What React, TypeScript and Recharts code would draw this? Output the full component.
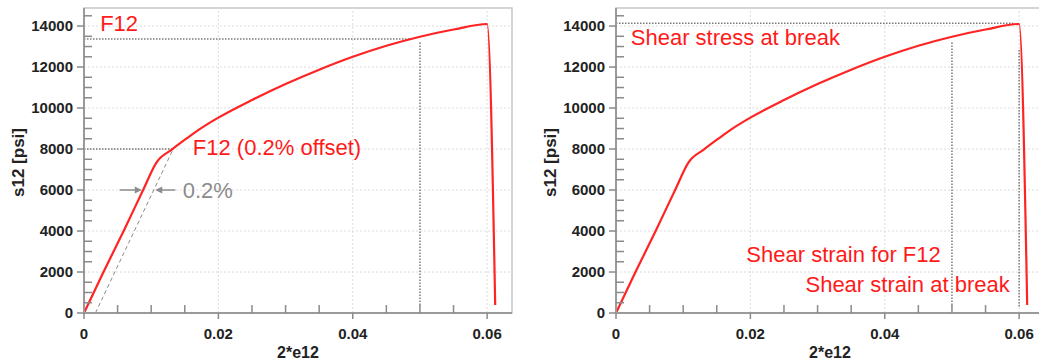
import React from "react";
import {
  ComposedChart, Line, XAxis, YAxis, ReferenceLine, ReferenceArea, ReferenceDot,
} from "recharts";

// stress-strain curve (same test shown twice)
const STRAIN = [0, 0.0029, 0.0059, 0.0088, 0.0108, 0.0131, 0.0153, 0.0175, 0.02, 0.025, 0.03, 0.035, 0.04, 0.045, 0.05, 0.055, 0.06, 0.0612];
const STRESS = [0, 2000, 4000, 6000, 7350, 7980, 8520, 9030, 9530, 10390, 11170, 11870, 12500, 13040, 13480, 13830, 14100, 390];

const X_TICKS = [0, 0.005, 0.01, 0.015, 0.02, 0.025, 0.03, 0.035, 0.04, 0.045, 0.05, 0.055, 0.06];
const Y_TICKS = [
  0, 500, 1000, 1500, 2000, 2500, 3000, 3500, 4000, 4500, 5000, 5500, 6000, 6500, 7000,
  7500, 8000, 8500, 9000, 9500, 10000, 10500, 11000, 11500, 12000, 12500, 13000, 13500, 14000, 14500,
];
const GRID_X = [0.02, 0.04, 0.06];
const GRID_Y = [2000, 4000, 6000, 8000, 10000, 12000, 14000];

const X_LABELS = ["0", "0.02", "0.04", "0.06"];

const X_MAX = 0.0637;
const Y_MAX = 14880;

// dotted guide segments [x1, y1, x2, y2]
const LEFT_GUIDES = [
  [0, 13370, 0.0488, 13370],
  [0.05, 13200, 0.05, 300],
  [0, 8000, 0.0131, 8000],
];
const RIGHT_GUIDES = [
  [0, 14130, 0.0591, 14130],
  [0.05, 13200, 0.05, 300],
  [0.06, 12830, 0.06, 300],
];
const OFFSET_LINE = [0.0017, 0, 0.0132, 7950];
const ARROWS = [
  [0.0053, 6000, 0.0086, 6000],
  [0.0136, 6000, 0.0106, 6000],
];

const LEFT_NOTES = [
  { text: "F12", x: 0.0024, y: 14100, color: "#ff1a1a" },
  { text: "F12 (0.2% offset)", x: 0.0162, y: 8050, color: "#ff1a1a" },
  { text: "0.2%", x: 0.0147, y: 6000, color: "#8c8c8c" },
];
const RIGHT_NOTES = [
  { text: "Shear stress at break", x: 0.0022, y: 13420, color: "#ff1a1a" },
  { text: "Shear strain for F12", x: 0.0194, y: 2830, color: "#ff1a1a" },
  { text: "Shear strain at break", x: 0.0282, y: 1370, color: "#ff1a1a" },
];

const data = STRAIN.map((x, i) => ({ x, s: STRESS[i] }));

const FONT = "'Liberation Sans', Arial, sans-serif";

const XTick = ({ x, y, payload }: any) => {
  const v = payload.value;
  const major = Math.abs(v / 0.02 - Math.round(v / 0.02)) < 1e-6;
  if (!major) {
    return <line x1={x} x2={x} y1={y} y2={y - 8} stroke="#8a8a8a" strokeWidth={1.5} />;
  }
  const lbl = X_LABELS[Math.round(v / 0.02)];
  return (
    <g>
      <line x1={x} x2={x} y1={y} y2={y + 6} stroke="#8a8a8a" strokeWidth={1.5} />
      <text x={x} y={y + 26} textAnchor="middle" fontSize={15} fontWeight="bold" fill="#222" fontFamily={FONT}>
        {lbl}
      </text>
    </g>
  );
};

const YTick = ({ x, y, payload }: any) => {
  const v = payload.value;
  if (v % 2000 !== 0) {
    return <line x1={x} x2={x + 8} y1={y} y2={y} stroke="#8a8a8a" strokeWidth={1.5} />;
  }
  return (
    <g>
      <line x1={x - 7} x2={x} y1={y} y2={y} stroke="#8a8a8a" strokeWidth={1.5} />
      <text x={x - 11} y={y + 5} textAnchor="end" fontSize={15} fontWeight="bold" fill="#222" fontFamily={FONT}>
        {v}
      </text>
    </g>
  );
};

const YLabel = ({ viewBox }: any) => {
  const cx = viewBox.x + 18;
  const cy = viewBox.y + viewBox.height / 2 + 2;
  return (
    <text x={cx} y={cy} transform={`rotate(-90, ${cx}, ${cy})`} textAnchor="middle" dominantBaseline="central"
      fontSize={17} fontWeight="bold" fill="#222" fontFamily={FONT}>
      s12 [psi]
    </text>
  );
};

const XLabel = ({ viewBox }: any) => (
  <text x={viewBox.x + viewBox.width / 2} y={viewBox.y + 45} textAnchor="middle"
    fontSize={16} fontWeight="bold" fill="#222" fontFamily={FONT}>
    2*e12
  </text>
);

const Arrow = (p: any) => {
  const { x1, y1, x2, y2 } = p;
  const dir = x2 > x1 ? 1 : -1;
  return (
    <g>
      <line x1={x1} y1={y1} x2={x2 - dir * 5} y2={y2} stroke="#8c8c8c" strokeWidth={1.5} />
      <polygon points={`${x2},${y2} ${x2 - dir * 7},${y2 - 3.5} ${x2 - dir * 7},${y2 + 3.5}`} fill="#8c8c8c" />
    </g>
  );
};

function Panel({ guides, notes, showOffset }: any) {
  return (
    <ComposedChart width={520} height={361} data={data} margin={{ top: 8, right: 8, left: 0, bottom: 0 }}>
      <ReferenceArea x1={0} x2={X_MAX} y1={0} y2={Y_MAX} fill="none" stroke="#c8c8c8" strokeWidth={1.5} />
      {GRID_X.map((v) => (
        <ReferenceLine key={"gx" + v} x={v} stroke="#dcdcdc" strokeDasharray="2 2" />
      ))}
      {GRID_Y.map((v) => (
        <ReferenceLine key={"gy" + v} y={v} stroke="#dcdcdc" strokeDasharray="2 2" />
      ))}
      <XAxis
        dataKey="x"
        type="number"
        domain={[0, X_MAX]}
        ticks={X_TICKS}
        interval={0}
        tick={<XTick />}
        tickLine={false}
        tickSize={0}
        tickMargin={0}
        axisLine={{ stroke: "#9a9a9a", strokeWidth: 2 }}
        height={48}
        label={<XLabel />}
      />
      <YAxis
        type="number"
        domain={[0, Y_MAX]}
        ticks={Y_TICKS}
        interval={0}
        tick={<YTick />}
        tickLine={false}
        tickSize={0}
        tickMargin={0}
        axisLine={{ stroke: "#9a9a9a", strokeWidth: 2 }}
        width={84}
        label={<YLabel />}
      />
      {guides.map((g: number[], i: number) => (
        <ReferenceLine
          key={"g" + i}
          segment={[{ x: g[0], y: g[1] }, { x: g[2], y: g[3] }]}
          stroke="#7a7a7a"
          strokeWidth={1.5}
          strokeDasharray="1.5 1.5"
        />
      ))}
      {showOffset && (
        <ReferenceLine
          segment={[{ x: OFFSET_LINE[0], y: OFFSET_LINE[1] }, { x: OFFSET_LINE[2], y: OFFSET_LINE[3] }]}
          stroke="#8a8a8a"
          strokeWidth={1}
          strokeDasharray="4 3"
        />
      )}
      {showOffset &&
        ARROWS.map((a, i) => (
          <ReferenceLine
            key={"a" + i}
            segment={[{ x: a[0], y: a[1] }, { x: a[2], y: a[3] }]}
            shape={(p: any) => <Arrow {...p} />}
          />
        ))}
      <Line
        dataKey="s"
        type="monotone"
        stroke="#ff2424"
        strokeWidth={2.2}
        dot={false}
        activeDot={false}
        isAnimationActive={false}
      />
      {notes.map((n: any) => (
        <ReferenceDot
          key={n.text}
          x={n.x}
          y={n.y}
          r={0}
          shape={(p: any) => (
            <text x={p.cx} y={p.cy} dominantBaseline="central" fontSize={22} fill={n.color} fontFamily={FONT}>
              {n.text}
            </text>
          )}
        />
      ))}
    </ComposedChart>
  );
}

export default function App() {
  return (
    <div style={{ position: "fixed", left: 0, top: 0, width: 1039, height: 361, overflow: "hidden", background: "#fff" }}>
      <div style={{ position: "absolute", left: 0, top: 0 }}>
        <Panel guides={LEFT_GUIDES} notes={LEFT_NOTES} showOffset />
      </div>
      <div style={{ position: "absolute", left: 532, top: 0 }}>
        <Panel guides={RIGHT_GUIDES} notes={RIGHT_NOTES} showOffset={false} />
      </div>
    </div>
  );
}
